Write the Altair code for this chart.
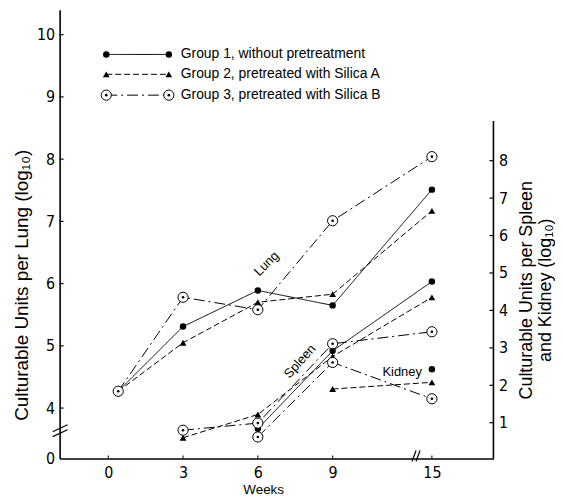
import altair as alt
import pandas as pd

# ---------------- data ----------------
GROUPS = ["Group 1", "Group 2", "Group 3"]
LEGEND_TEXT = [
    "Group 1,  without  pretreatment",
    "Group 2,  pretreated  with  Silica  A",
    "Group 3,  pretreated  with  Silica  B",
]
WEEK_TICKS = [0, 3, 6, 9, 15]
LUNG_TICKS = [4, 5, 6, 7, 8, 9, 10]
ORGAN_TICKS = [1, 2, 3, 4, 5, 6, 7, 8]

# Lung (left axis, log10); the week-0 point sits a little right of the 0 tick in the original
lung_weeks = [0.4, 3, 6, 9, 15]
lung_g1 = [4.27, 5.31, 5.89, 5.65, 7.51]
lung_g2 = [4.27, 5.05, 5.70, 5.83, 7.17]
lung_g3 = [4.27, 5.78, 5.58, 7.01, 8.04]

# Spleen (right axis, log10)
spleen_g1_weeks = [6, 9, 15]
spleen_g1 = [0.84, 2.92, 4.77]
spleen_g2_weeks = [3, 6, 9, 15]
spleen_g2 = [0.60, 1.22, 2.77, 4.35]
spleen_g3_weeks = [3, 6, 9, 15]
spleen_g3 = [0.80, 0.99, 3.11, 3.43]

# Kidney (right axis, log10)
kidney_g1_weeks = [15]
kidney_g1 = [2.43]
kidney_g2_weeks = [9, 15]
kidney_g2 = [1.90, 2.08]
kidney_g3_weeks = [6, 9, 15]
kidney_g3 = [0.62, 2.61, 1.64]

# annotation labels (week, value on the organ's axis)
lung_label = {"week": [6.35], "value": [6.32], "label": ["Lung"]}
spleen_label = {"week": [7.69], "value": [2.64], "label": ["Spleen"]}
kidney_label = {"week": [13.2], "value": [2.35], "label": ["Kidney"]}

# ---------------- tables ----------------
def rows(organ, group, weeks, vals):
    return [{"organ": organ, "group": group, "series": organ + group, "week": w, "value": v}
            for w, v in zip(weeks, vals)]

lung_df = pd.DataFrame(
    rows("Lung", "Group 1", lung_weeks, lung_g1)
    + rows("Lung", "Group 2", lung_weeks, lung_g2)
    + rows("Lung", "Group 3", lung_weeks, lung_g3)
)
organ_df = pd.DataFrame(
    rows("Spleen", "Group 1", spleen_g1_weeks, spleen_g1)
    + rows("Spleen", "Group 2", spleen_g2_weeks, spleen_g2)
    + rows("Spleen", "Group 3", spleen_g3_weeks, spleen_g3)
    + rows("Kidney", "Group 1", kidney_g1_weeks, kidney_g1)
    + rows("Kidney", "Group 2", kidney_g2_weeks, kidney_g2)
    + rows("Kidney", "Group 3", kidney_g3_weeks, kidney_g3)
)

W, H = 437, 452
NARROW = "Liberation Sans Narrow, DejaVu Sans Condensed, Liberation Sans"
SANS = "Liberation Sans"

# broken x axis: piecewise linear scale (9 -> 15 compressed)
xscale = alt.Scale(domain=[-1.95, 9, 15, 16.5], range=[0, 275, 375, W], nice=False, zero=False)
xaxis = alt.Axis(values=WEEK_TICKS, ticks=False, tickSize=0, grid=False, labelFont=NARROW,
                 labelFontSize=16, labelPadding=6, labelColor="black", domainColor="black",
                 domainWidth=1.6, title="Weeks", titleFont=SANS, titleFontSize=13.5,
                 titleFontWeight="normal", titleColor="black", titleX=205, titleY=31,
                 titleBaseline="middle")
X = alt.X("week:Q", scale=xscale, axis=xaxis)

lscale = alt.Scale(domain=[3.19, 10.4], nice=False, zero=False)
laxis = alt.Axis(values=[3.19] + LUNG_TICKS, labelExpr="datum.value < 3.5 ? '0' : datum.label",
                 ticks=False, tickSize=0, grid=False, labelFont=NARROW, labelFontSize=16,
                 labelPadding=5, labelColor="black", domainColor="black", domainWidth=1.6,
                 title="Culturable  Units  per  Lung  (log₁₀)", titleFont=SANS, titleFontSize=19,
                 titleFontWeight="normal", titleColor="black", titleAngle=270,
                 titleX=-38, titleY=277, titleBaseline="middle", titleAlign="center")

rscale = alt.Scale(domain=[0.045, 12.03], nice=False, zero=False)
raxis = alt.Axis(values=ORGAN_TICKS, ticks=False, tickSize=0, grid=False, domain=False,
                 labelFont=NARROW, labelFontSize=16, labelPadding=5, labelColor="black",
                 title=["Culturable  Units  per  Spleen", "and  Kidney (log₁₀)"],
                 titleFont=SANS, titleFontSize=18, titleFontWeight="normal", titleColor="black",
                 titleAngle=270, titleX=33, titleY=282, titleBaseline="middle",
                 titleAlign="center", titleLineHeight=19)


def YL(field="value"):
    return alt.Y(f"{field}:Q", scale=lscale, axis=laxis)


def YR(field="value"):
    return alt.Y(f"{field}:Q", scale=rscale, axis=raxis)


dash = alt.StrokeDash("group:N", scale=alt.Scale(domain=GROUPS, range=[[1, 0], [6, 3], [11, 4, 2, 4]]),
                      legend=None)


def series_layers(df, Y):
    base = alt.Chart(df)
    line = base.mark_line(color="black", strokeWidth=1).encode(x=X, y=Y(), strokeDash=dash,
                                                               detail="series:N")
    g1 = base.transform_filter(alt.datum.group == "Group 1").mark_point(
        shape="circle", filled=True, color="black", size=42, opacity=1).encode(x=X, y=Y())
    g2 = base.transform_filter(alt.datum.group == "Group 2").mark_point(
        shape="triangle-up", filled=True, color="black", size=46, opacity=1).encode(x=X, y=Y())
    g3o = base.transform_filter(alt.datum.group == "Group 3").mark_point(
        shape="circle", filled=True, fill="white", stroke="black", strokeWidth=1, size=105,
        opacity=1).encode(x=X, y=Y())
    g3i = base.transform_filter(alt.datum.group == "Group 3").mark_point(
        shape="circle", filled=True, color="black", size=7, opacity=1).encode(x=X, y=Y())
    return [line, g1, g2, g3o, g3i]


# ---------------- decorations ----------------
one = pd.DataFrame({"a": [0]})

left_ticks = alt.Chart(pd.DataFrame({"t": LUNG_TICKS})).mark_rule(color="black", strokeWidth=1.2).encode(
    y=YL("t"), x=alt.value(0), x2=alt.value(4))
bottom_ticks = alt.Chart(pd.DataFrame({"week": WEEK_TICKS})).mark_rule(color="black", strokeWidth=1).encode(
    x=X, y=alt.value(H), y2=alt.value(H - 3))
right_ticks = alt.Chart(pd.DataFrame({"t": ORGAN_TICKS})).mark_rule(color="black", strokeWidth=1.2).encode(
    y=YR("t"), x=alt.value(W - 4), x2=alt.value(W))
right_line = alt.Chart(pd.DataFrame({"lo": [0.045], "hi": [9.06]})).mark_rule(
    color="black", strokeWidth=1.6).encode(x=alt.value(W), y=YR("lo"), y2="hi:Q")

breaks = []
for (x1, y1, x2, y2) in [(-7, 425, 8, 418), (-7, 430, 8, 423), (355, 455, 359, 444), (359, 455, 363, 444)]:
    breaks.append(alt.Chart(one).mark_rule(color="black", strokeWidth=1.2).encode(
        x=alt.value(x1), y=alt.value(y1), x2=alt.value(x2), y2=alt.value(y2)))

# manual legend
legend = []
leg_rows = [45, 65, 86]
for i, g in enumerate(GROUPS):
    yv = leg_rows[i]
    d = [[1, 0], [6, 3], [11, 4, 2, 4]][i]
    legend.append(alt.Chart(one).mark_rule(color="black", strokeWidth=1, strokeDash=d).encode(
        x=alt.value(47), x2=alt.value(110), y=alt.value(yv)))
    for xv in (47, 110):
        if i == 0:
            legend.append(alt.Chart(one).mark_point(shape="circle", filled=True, color="black",
                                                    size=42, opacity=1).encode(x=alt.value(xv), y=alt.value(yv)))
        elif i == 1:
            legend.append(alt.Chart(one).mark_point(shape="triangle-up", filled=True, color="black",
                                                    size=46, opacity=1).encode(x=alt.value(xv), y=alt.value(yv)))
        else:
            legend.append(alt.Chart(one).mark_point(shape="circle", filled=True, fill="white", stroke="black",
                                                    strokeWidth=1, size=105, opacity=1).encode(
                x=alt.value(xv), y=alt.value(yv)))
            legend.append(alt.Chart(one).mark_point(shape="circle", filled=True, color="black",
                                                    size=7, opacity=1).encode(x=alt.value(xv), y=alt.value(yv)))
    legend.append(alt.Chart(pd.DataFrame({"label": [LEGEND_TEXT[i]]})).mark_text(
        align="left", baseline="middle", font=SANS, fontSize=14, color="black").encode(
        x=alt.value(122), y=alt.value(yv), text="label:N"))

lung_text = alt.Chart(pd.DataFrame(lung_label)).mark_text(
    angle=315, font=SANS, fontSize=13, color="black").encode(x=X, y=YL(), text="label:N")
spleen_text = alt.Chart(pd.DataFrame(spleen_label)).mark_text(
    angle=312, font=SANS, fontSize=13, color="black").encode(x=X, y=YR(), text="label:N")
kidney_text = alt.Chart(pd.DataFrame(kidney_label)).mark_text(
    font=SANS, fontSize=13, color="black").encode(x=X, y=YR(), text="label:N")

lung_layer = alt.layer(*(series_layers(lung_df, YL) + [left_ticks, bottom_ticks, lung_text] + breaks + legend))
organ_layer = alt.layer(*(series_layers(organ_df, YR) + [right_ticks, right_line, spleen_text, kidney_text]))

chart = alt.layer(lung_layer, organ_layer).resolve_scale(y="independent").properties(
    width=W, height=H,
    autosize=alt.AutoSizeParams(type="none"),
    padding={"left": 52, "top": 0, "right": 62, "bottom": 36},
    background="white",
).configure_view(stroke=None)

chart.save("out.html", embed_options={"renderer": "svg", "actions": False})
